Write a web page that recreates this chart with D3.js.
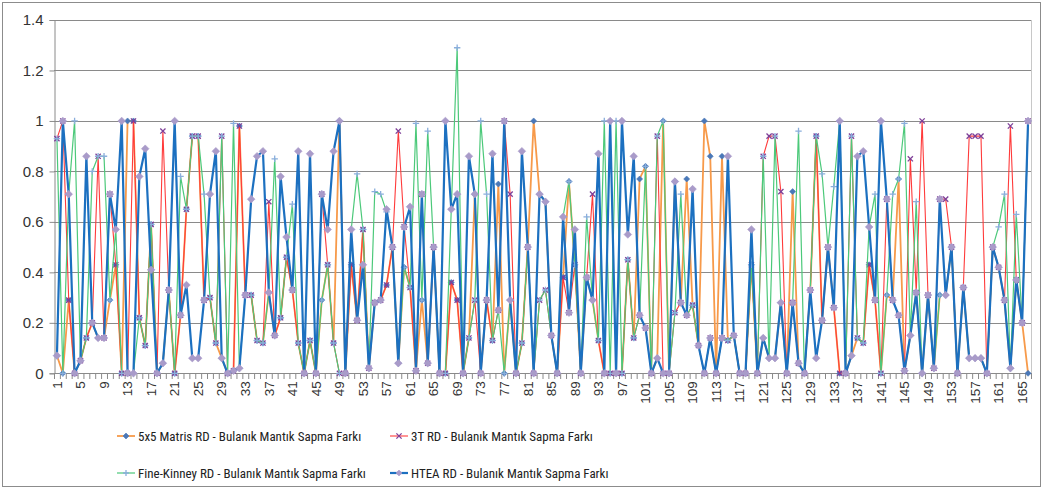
<!DOCTYPE html>
<html>
<head>
<meta charset="utf-8">
<script src="https://cdn.jsdelivr.net/npm/d3@7"></script>
<style>
  body { margin: 0; background: #fff; }
  svg { font-family: "Liberation Sans", Arial, sans-serif; }
</style>
</head>
<body>
<div id="chart"></div>
<script>
// categories 1..166
const categories = d3.range(1, 167).map(String);

const matris5x5 = [
  0.07, 0, 0.29, 0, 0.05, 0.14, 0.2, 0.14, 0.14, 0.29,
  0.43, 0, 1, 1, 0.22, 0.11, 0.59, 0, 0.04, 0.33,
  0, 0.23, 0.65, 0.94, 0.94, 0.29, 0.3, 0.12, 0.06, 0,
  0.01, 0.98, 0.31, 0.31, 0.13, 0.12, 0.32, 0.15, 0.22, 0.46,
  0.33, 0.12, 0, 0.13, 0, 0.29, 0.43, 0.12, 1, 0,
  0.43, 0.21, 0.57, 0.02, 0.28, 0.29, 0.35, 0.5, 0.04, 0.42,
  0.34, 0.01, 0.29, 0.04, 0.5, 0, 0, 0.36, 0.29, 0,
  0.14, 0.71, 0, 0.29, 0.13, 0.75, 0, 0.29, 0, 0.12,
  0.5, 1, 0.71, 0.68, 0.15, 0, 0.38, 0.76, 0.43, 0,
  0.38, 0.29, 0.13, 0, 0, 0, 0, 0.45, 0.14, 0.77,
  0.82, 0, 0.06, 1, 0, 0.76, 0.28, 0.77, 0.27, 0.11,
  1, 0.86, 0, 0.86, 0.13, 0.15, 0, 0, 0.43, 0,
  0.14, 0.06, 0.06, 0.28, 0, 0.72, 0.04, 0, 0.33, 0.94,
  0.21, 0.5, 0.26, 0, 0, 0.07, 0.14, 0.12, 0.43, 0.29,
  0, 0.31, 0.29, 0.77, 0.01, 0.15, 0.32, 0, 0.31, 0.02,
  0.31, 0.31, 0.5, 0, 0.34, 0.06, 0.06, 0.06, 0, 0.5,
  0.42, 0.29, 0.02, 0.37, 0.2, 0
];

const tt3 = [
  0.93, 1, 0.29, 0, 0.05, 0.14, 0.2, 0.86, 0.14, 0.71,
  0.43, 0, 0, 1, 0.22, 0.11, 0.59, 0, 0.96, 0.33,
  0, 0.23, 0.65, 0.94, 0.94, 0.29, 0.3, 0.12, 0.94, 0,
  0.01, 0.98, 0.31, 0.31, 0.13, 0.12, 0.68, 0.15, 0.22, 0.46,
  0.33, 0.12, 0, 0.13, 0, 0.71, 0.43, 0.12, 0, 0,
  0.43, 0.21, 0.57, 0.02, 0.28, 0.29, 0.35, 0.5, 0.96, 0.58,
  0.34, 0.01, 0.71, 0.04, 0.5, 0, 0, 0.36, 0.29, 0,
  0.14, 0.29, 0, 0.29, 0.13, 0.25, 1, 0.71, 0, 0.12,
  0.5, 0, 0.29, 0.33, 0.15, 0, 0.38, 0.24, 0.43, 0,
  0.38, 0.71, 0.13, 0, 0, 0, 0, 0.45, 0.14, 0.23,
  0.18, 0, 0.94, 0, 0, 0.24, 0.28, 0.23, 0.27, 0.11,
  0, 0.14, 0, 0.14, 0.13, 0.15, 0, 0, 0.43, 0,
  0.86, 0.94, 0.94, 0.72, 0, 0.28, 0.04, 0, 0.33, 0.94,
  0.21, 0.5, 0.26, 0, 0, 0.94, 0.14, 0.12, 0.43, 0.29,
  0, 0.69, 0.29, 0.23, 0.01, 0.85, 0.32, 1, 0.31, 0.02,
  0.69, 0.69, 0.5, 0, 0.34, 0.94, 0.94, 0.94, 0, 0.5,
  0.42, 0.29, 0.98, 0.37, 0.2, 1
];

const fineKinney = [
  0.93, 0, 0.71, 1, 0.05, 0.14, 0.8, 0.86, 0.86, 0.29,
  0.57, 0, 0, 0, 0.22, 0.11, 0.59, 0, 0.04, 0.33,
  0, 0.78, 0.65, 0.94, 0.94, 0.71, 0.3, 0.12, 0.94, 0,
  0.99, 0.02, 0.31, 0.31, 0.13, 0.12, 0.32, 0.85, 0.22, 0.46,
  0.67, 0.12, 0, 0.13, 0, 0.29, 0.43, 0.12, 0, 0,
  0.57, 0.79, 0.57, 0.02, 0.72, 0.71, 0.64, 0.5, 0.04, 0.42,
  0.34, 0.99, 0.29, 0.96, 0.5, 0, 0, 0.65, 1.29, 0,
  0.14, 0.29, 1, 0.71, 0.13, 0.25, 0, 0.29, 0, 0.12,
  0.5, 0, 0.29, 0.33, 0.15, 0, 0.62, 0.76, 0.43, 0,
  0.62, 0.29, 0.13, 1, 0, 1, 0, 0.45, 0.14, 0.23,
  0.82, 0, 0.94, 1, 0, 0.24, 0.71, 0.23, 0.27, 0.11,
  0, 0.14, 0, 0.14, 0.13, 0.15, 0, 0, 0.43, 0,
  0.86, 0.06, 0.94, 0.28, 0, 0.28, 0.96, 0, 0.33, 0.94,
  0.79, 0.5, 0.74, 1, 0, 0.94, 0.14, 0.12, 0.58, 0.71,
  0, 0.31, 0.71, 0.77, 0.99, 0.15, 0.68, 0, 0.31, 0.02,
  0.31, 0.31, 0.5, 0, 0.34, 0.06, 0.06, 0.06, 0, 0.5,
  0.58, 0.71, 0.02, 0.63, 0.2, 1
];

const htea = [
  0.07, 1, 0.71, 0, 0.05, 0.86, 0.2, 0.14, 0.14, 0.71,
  0.57, 1, 0, 0, 0.78, 0.89, 0.41, 0, 0.04, 0.33,
  1, 0.23, 0.35, 0.06, 0.06, 0.29, 0.71, 0.88, 0.06, 0,
  0.01, 0.02, 0.31, 0.69, 0.86, 0.88, 0.32, 0.15, 0.78, 0.54,
  0.33, 0.88, 0, 0.87, 0, 0.71, 0.57, 0.88, 1, 0,
  0.57, 0.21, 0.43, 0.02, 0.28, 0.29, 0.65, 0.5, 0.04, 0.58,
  0.66, 0.01, 0.71, 0.04, 0.5, 0, 1, 0.65, 0.71, 0,
  0.86, 0.71, 0, 0.29, 0.87, 0.25, 1, 0.29, 0, 0.88,
  0.5, 0, 0.71, 0.68, 0.15, 0, 0.62, 0.24, 0.57, 0,
  0.38, 0.29, 0.87, 0, 1, 0, 1, 0.55, 0.86, 0.23,
  0.18, 0, 0.06, 0, 0, 0.76, 0.28, 0.23, 0.73, 0.11,
  0, 0.14, 0, 0.14, 0.86, 0.15, 0, 0, 0.57, 0,
  0.14, 0.06, 0.06, 0.28, 0, 0.28, 0.04, 0, 0.33, 0.06,
  0.21, 0.5, 0.26, 1, 0, 0.07, 0.86, 0.88, 0.58, 0.29,
  1, 0.69, 0.29, 0.23, 0.01, 0.15, 0.32, 0, 0.31, 0.02,
  0.69, 0.31, 0.5, 0, 0.34, 0.06, 0.06, 0.06, 0, 0.5,
  0.42, 0.29, 0.02, 0.37, 0.2, 1
];

const yTicks = [0, 0.2, 0.4, 0.6, 0.8, 1, 1.2, 1.4];
const xLabelEvery = 4;

const series = [
  { name: '5x5 Matris RD - Bulanık Mantık Sapma Farkı', values: matris5x5,
    line: '#F79A4A', width: 1.8, marker: 'diamond', mColor: '#4A78B8', r: 3 },
  { name: '3T RD - Bulanık Mantık Sapma Farkı', values: tt3,
    line: '#FF3B3B', width: 1.1, marker: 'x', mColor: '#7E3F98', r: 2.6 },
  { name: 'Fine-Kinney RD - Bulanık Mantık Sapma Farkı', values: fineKinney,
    line: '#4CC97A', width: 1.2, marker: 'plus', mColor: '#8AAEDC', r: 3.2 },
  { name: 'HTEA RD - Bulanık Mantık Sapma Farkı', values: htea,
    line: '#1C70C0', width: 2.2, marker: 'diamond', mColor: '#A99BC9', r: 3.8 }
];

const W = 1046, H = 490;
const plot = { left: 54, right: 1031, top: 20, bottom: 373.3 };

const svg = d3.select('#chart').append('svg')
  .attr('width', W).attr('height', H);

// outer chart border
svg.append('rect')
  .attr('x', 2.5).attr('y', 2.5).attr('width', 1038).attr('height', 484)
  .attr('fill', '#fff').attr('stroke', '#8c8c8c').attr('stroke-width', 1);

const x = d3.scaleBand().domain(categories).range([plot.left, plot.right]);
const y = d3.scaleLinear().domain([0, 1.4]).range([plot.bottom, plot.top]);
const cx = c => x(c) + x.bandwidth() / 2;

// gridlines
svg.append('g')
  .selectAll('line')
  .data(yTicks.filter(d => d > 0))
  .enter().append('line')
  .attr('x1', plot.left).attr('x2', plot.right)
  .attr('y1', d => Math.round(y(d)) + 0.5).attr('y2', d => Math.round(y(d)) + 0.5)
  .attr('stroke', '#8a8a8a').attr('stroke-width', 1);

// plot right edge
svg.append('line')
  .attr('x1', plot.right + 0.5).attr('x2', plot.right + 0.5)
  .attr('y1', y(1.4)).attr('y2', y(0))
  .attr('stroke', '#c8c8c8');

// y axis
const yAxis = d3.axisLeft(y).tickValues(yTicks).tickSize(5).tickPadding(6)
  .tickFormat(d3.format('~g'));
const gy = svg.append('g')
  .attr('transform', `translate(${plot.left + 0.5},0)`)
  .call(yAxis);
gy.select('.domain').attr('stroke', '#8a8a8a');
gy.selectAll('.tick line').attr('stroke', '#8a8a8a');
gy.selectAll('.tick text')
  .attr('font-size', 15).attr('fill', '#333')
  .attr('font-family', '"Liberation Sans", Arial, sans-serif');

// x axis: baseline, ticks between categories, rotated labels
svg.append('line')
  .attr('x1', plot.left).attr('x2', plot.right)
  .attr('y1', Math.round(y(0)) + 0.5).attr('y2', Math.round(y(0)) + 0.5)
  .attr('stroke', '#8a8a8a');

svg.append('g')
  .selectAll('line')
  .data(categories.concat(['end']))
  .enter().append('line')
  .attr('x1', d => (d === 'end' ? plot.right : x(d)) + 0.5)
  .attr('x2', d => (d === 'end' ? plot.right : x(d)) + 0.5)
  .attr('y1', Math.round(y(0))).attr('y2', Math.round(y(0)) + 6)
  .attr('stroke', '#8a8a8a');

svg.append('g')
  .selectAll('text')
  .data(categories.filter((d, i) => i % xLabelEvery === 0))
  .enter().append('text')
  .attr('transform', d => `translate(${cx(d)},${y(0) + 8}) rotate(-90)`)
  .attr('text-anchor', 'end')
  .attr('dy', '0.35em')
  .attr('font-size', 13.5)
  .attr('fill', '#333')
  .text(d => d);

// marker drawing
function drawMarker(g, s) {
  const r = s.r;
  if (s.marker === 'diamond') {
    g.append('path')
      .attr('d', `M0,${-r}L${r},0L0,${r}L${-r},0Z`)
      .attr('fill', s.mColor).attr('stroke', s.mColor).attr('stroke-width', 0.6);
  } else if (s.marker === 'x') {
    g.append('path')
      .attr('d', `M${-r},${-r}L${r},${r}M${-r},${r}L${r},${-r}`)
      .attr('stroke', s.mColor).attr('stroke-width', 1.3).attr('fill', 'none');
  } else {
    g.append('path')
      .attr('d', `M${-r},0L${r},0M0,${-r}L0,${r}`)
      .attr('stroke', s.mColor).attr('stroke-width', 1.3).attr('fill', 'none');
  }
}

const line = d3.line()
  .x((d, i) => cx(categories[i]))
  .y(d => y(d));

series.forEach(s => {
  const g = svg.append('g');
  g.append('path')
    .datum(s.values)
    .attr('d', line)
    .attr('fill', 'none')
    .attr('stroke', s.line)
    .attr('stroke-width', s.width)
    .attr('stroke-linejoin', 'round');
  g.selectAll('g.m')
    .data(s.values)
    .enter().append('g')
    .attr('class', 'm')
    .attr('transform', (d, i) => `translate(${cx(categories[i])},${y(d)})`)
    .each(function () { drawMarker(d3.select(this), s); });
});

// legend, two rows by two columns
const legendPos = [
  { x: 117, y: 436 }, { x: 390, y: 436 },
  { x: 117, y: 473 }, { x: 390, y: 473 }
];
series.forEach((s, i) => {
  const p = legendPos[i];
  const g = svg.append('g').attr('transform', `translate(${p.x},${p.y})`);
  g.append('line')
    .attr('x1', 0).attr('x2', 18).attr('y1', 0).attr('y2', 0)
    .attr('stroke', s.line).attr('stroke-width', s.width);
  const m = g.append('g').attr('transform', 'translate(9,0)');
  drawMarker(m, { ...s, r: Math.min(s.r, 3) });
  g.append('text')
    .attr('x', 21).attr('dy', '0.35em')
    .attr('font-size', 13)
    .attr('font-family', '"Liberation Sans Narrow", "Roboto Condensed", sans-serif')
    .attr('fill', '#222')
    .text(s.name);
});
</script>
</body>
</html>
